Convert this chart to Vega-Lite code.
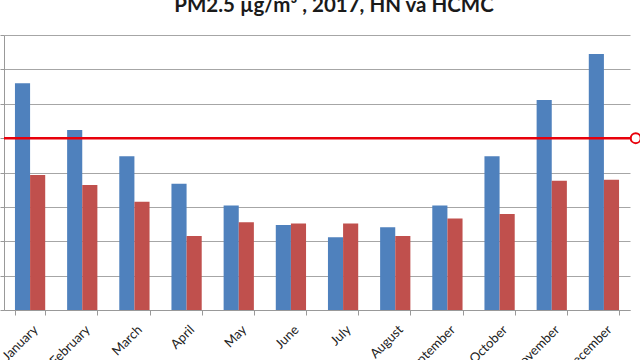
{
  "$schema": "https://vega.github.io/schema/vega-lite/v6.json",
  "width": 626,
  "height": 275,
  "autosize": {"type": "none"},
  "padding": {"left": 4, "top": 35, "right": 10, "bottom": 50},
  "background": "white",
  "title": {
    "text": "PM2.5 µg/m³ , 2017, HN va HCMC",
    "font": "Lato",
    "fontSize": 20.5,
    "fontWeight": "bold",
    "color": "#1a1a1a",
    "anchor": "middle",
    "offset": 18,
    "dx": 17
  },
  "config": {
    "view": {"stroke": null},
    "axisX": {
      "domainColor": "#999999",
      "tickColor": "#999999",
      "tickBand": "extent",
      "tickSize": 5,
      "labelAngle": -45,
      "labelFont": "Lato",
      "labelFontSize": 13,
      "labelColor": "#222222",
      "labelPadding": 8,
      "labelOffset": 1,
      "grid": false,
      "title": null
    },
    "axisY": {
      "domainColor": "#999999",
      "tickColor": "#999999",
      "tickSize": 4,
      "gridColor": "#A6A6A6",
      "labels": false,
      "title": null
    }
  },
  "layer": [
    {
      "data": {
        "values": [
          {"month": "January", "city": "HN", "value": 66},
          {"month": "January", "city": "HCMC", "value": 39.3},
          {"month": "February", "city": "HN", "value": 52.4},
          {"month": "February", "city": "HCMC", "value": 36.4},
          {"month": "March", "city": "HN", "value": 44.7},
          {"month": "March", "city": "HCMC", "value": 31.5},
          {"month": "April", "city": "HN", "value": 36.7},
          {"month": "April", "city": "HCMC", "value": 21.5},
          {"month": "May", "city": "HN", "value": 30.4},
          {"month": "May", "city": "HCMC", "value": 25.5},
          {"month": "June", "city": "HN", "value": 24.7},
          {"month": "June", "city": "HCMC", "value": 25.2},
          {"month": "July", "city": "HN", "value": 21.2},
          {"month": "July", "city": "HCMC", "value": 25.2},
          {"month": "August", "city": "HN", "value": 24.1},
          {"month": "August", "city": "HCMC", "value": 21.5},
          {"month": "September", "city": "HN", "value": 30.4},
          {"month": "September", "city": "HCMC", "value": 26.6},
          {"month": "October", "city": "HN", "value": 44.7},
          {"month": "October", "city": "HCMC", "value": 27.9},
          {"month": "November", "city": "HN", "value": 61.1},
          {"month": "November", "city": "HCMC", "value": 37.6},
          {"month": "December", "city": "HN", "value": 74.5},
          {"month": "December", "city": "HCMC", "value": 37.9}
        ]
      },
      "mark": {"type": "bar"},
      "encoding": {
        "x": {
          "field": "month",
          "type": "nominal",
          "sort": ["January", "February", "March", "April", "May", "June", "July", "August", "September", "October", "November", "December"],
          "scale": {"paddingInner": 0.42, "paddingOuter": 0.21},
          "axis": {}
        },
        "xOffset": {"field": "city", "type": "nominal", "sort": ["HN", "HCMC"]},
        "y": {
          "field": "value",
          "type": "quantitative",
          "scale": {"domain": [0, 80]},
          "axis": {"values": [0, 10, 20, 30, 40, 50, 60, 70, 80]}
        },
        "color": {
          "field": "city",
          "type": "nominal",
          "scale": {"domain": ["HN", "HCMC"], "range": ["#4F81BD", "#C0504D"]},
          "legend": null
        }
      }
    },
    {
      "data": {"values": [{"pos": 0, "limit": 50}, {"pos": 12, "limit": 50}]},
      "mark": {"type": "line", "color": "#E8000B", "strokeWidth": 2.5},
      "encoding": {
        "x": {"field": "pos", "type": "quantitative", "scale": {"domain": [0, 12]}, "axis": null},
        "y": {"field": "limit", "type": "quantitative", "axis": {"values": [0, 10, 20, 30, 40, 50, 60, 70, 80]}}
      }
    },
    {
      "data": {"values": [{"pos": 12.11, "limit": 50}]},
      "mark": {"type": "point", "shape": "circle", "size": 100, "stroke": "#E8000B", "strokeWidth": 2, "fill": "white", "filled": false, "opacity": 1, "clip": false},
      "encoding": {
        "x": {"field": "pos", "type": "quantitative", "scale": {"domain": [0, 12]}, "axis": null},
        "y": {"field": "limit", "type": "quantitative", "axis": {"values": [0, 10, 20, 30, 40, 50, 60, 70, 80]}}
      }
    }
  ],
  "resolve": {"scale": {"x": "independent"}}
}
